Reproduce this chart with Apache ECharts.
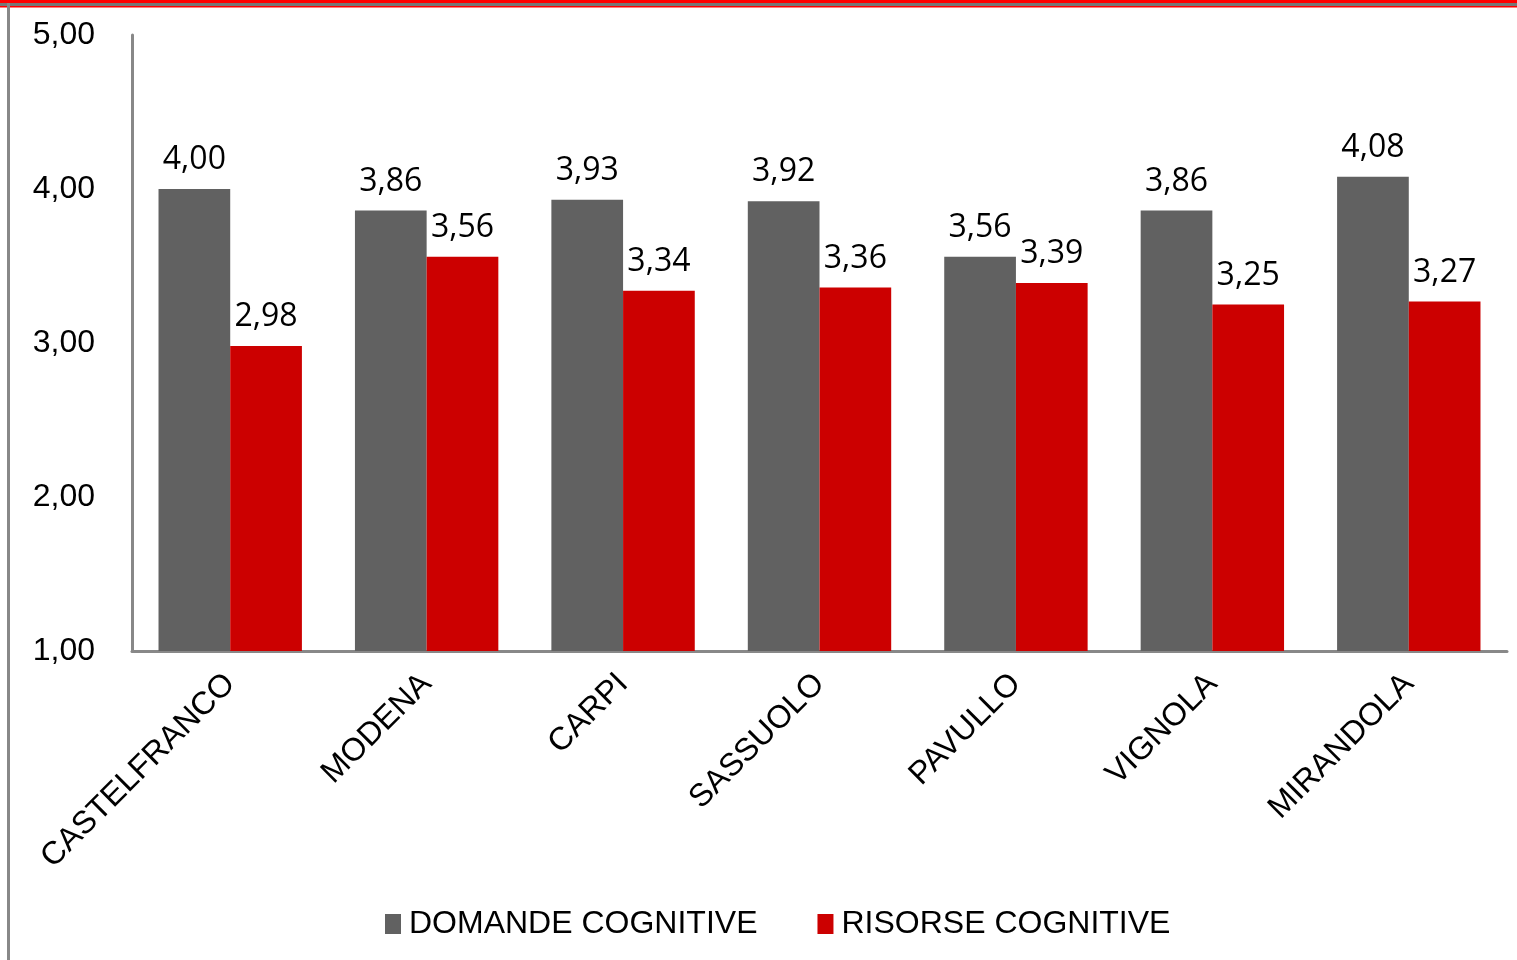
<!DOCTYPE html>
<html>
<head>
<meta charset="utf-8">
<script src="https://cdn.jsdelivr.net/npm/echarts@6/dist/echarts.min.js"></script>
<style>html,body{margin:0;padding:0;background:#fff}#c{width:1517px;height:960px}</style>
</head>
<body>
<div id="c"></div>
<script>
var categories = ['CASTELFRANCO','MODENA','CARPI','SASSUOLO','PAVULLO','VIGNOLA','MIRANDOLA'];
var domande = [4.00, 3.86, 3.93, 3.92, 3.56, 3.86, 4.08];
var risorse = [2.98, 3.56, 3.34, 3.36, 3.39, 3.25, 3.27];
var seriesNames = ['DOMANDE COGNITIVE','RISORSE COGNITIVE'];

function fmt(v){ return Number(v).toFixed(2).replace('.', ','); }

var chart = echarts.init(document.getElementById('c'), null, {renderer:'canvas'});
var labelStyle = {
  show: true, position: 'top', distance: 13,
  formatter: function(p){ return fmt(p.value); },
  fontFamily: 'Open Sans', fontSize: 32, color: '#000'
};
chart.setOption({
  animation: false,
  backgroundColor: '#fff',
  graphic: [
    {type:'rect', shape:{x:0,y:0,width:1517,height:3}, style:{fill:'#ff0000'}},
    {type:'rect', shape:{x:0,y:3,width:1517,height:3}, style:{fill:'#777777'}},
    {type:'rect', shape:{x:0,y:6,width:1517,height:1.5}, style:{fill:'#ff0000'}},
    {type:'rect', shape:{x:7,y:3,width:3,height:957}, style:{fill:'#888888'}}
  ],
  legend: {
    top: 903, left: 380,
    itemWidth: 16, itemHeight: 20, itemGap: 60,
    icon: 'rect',
    textStyle: {fontFamily: 'Liberation Sans', fontSize: 32, color: '#000', padding: [0,0,0,3]},
    data: seriesNames
  },
  grid: {left: 132, top: 35, right: 10, bottom: 309, containLabel: false},
  xAxis: {
    type: 'category', data: categories,
    axisLine: {lineStyle: {color: '#888', width: 3}},
    axisTick: {show: false},
    axisLabel: {rotate: 45, margin: 28, fontFamily: 'Liberation Sans', fontSize: 32, color: '#000', interval: 0}
  },
  yAxis: {
    type: 'value', min: 1, max: 5, interval: 1,
    axisLine: {show: true, lineStyle: {color: '#888', width: 3}},
    axisTick: {show: false},
    splitLine: {show: false},
    axisLabel: {formatter: fmt, margin: 37, fontFamily: 'Liberation Sans', fontSize: 32, color: '#000'}
  },
  series: [
    {name: seriesNames[0], type: 'bar', data: domande, barGap: '0%', barCategoryGap: '27%',
     itemStyle: {color: '#616161'}, label: labelStyle},
    {name: seriesNames[1], type: 'bar', data: risorse,
     itemStyle: {color: '#cc0000'}, label: labelStyle}
  ]
});
</script>
</body>
</html>
